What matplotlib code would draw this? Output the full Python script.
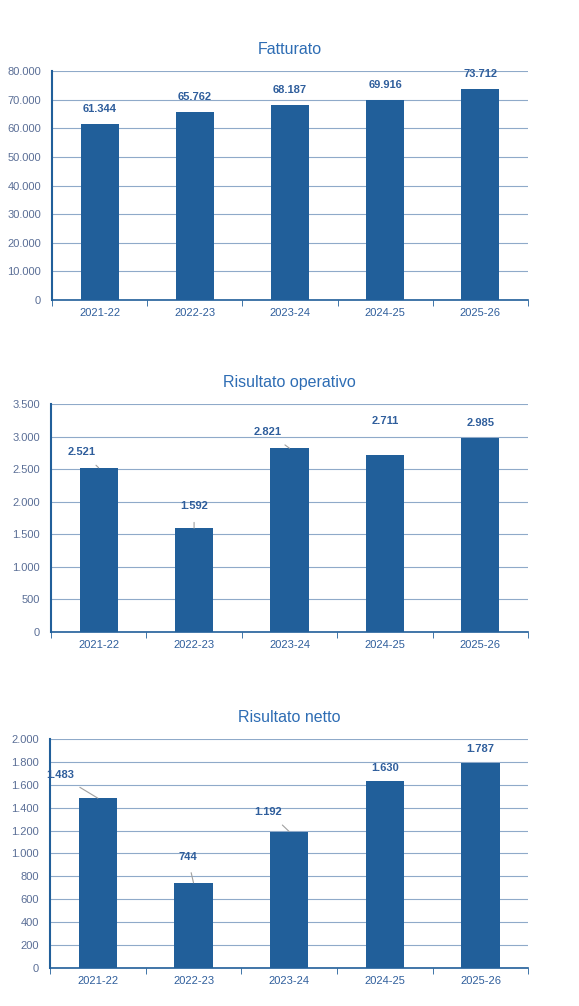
import matplotlib.pyplot as plt
from matplotlib.ticker import FuncFormatter

plt.rcParams['font.family'] = ['Liberation Sans', 'DejaVu Sans']

years = ["2021-22", "2022-23", "2023-24", "2024-25", "2025-26"]
fatturato = [61344, 65762, 68187, 69916, 73712]
risultato_operativo = [2521, 1592, 2821, 2711, 2985]
risultato_netto = [1483, 744, 1192, 1630, 1787]

BAR = "#215F9A"
GRID = "#8FAAC9"
TICK = "#5A6E96"
CAT = "#2F5E9C"
LBL = "#2F5E9C"


def fmt(v):
    return f"{int(v):,}".replace(",", ".")


panels = [
    ("Fatturato", fatturato, 80000, 10000, [0.0898, 0.7018, 0.822, 0.2276],
     [(0, 15, False), (0, 15, False), (0, 15, False), (0, 15, False), (0, 15, False)]),
    ("Risultato operativo", risultato_operativo, 3500, 500, [0.0880, 0.3718, 0.824, 0.2266],
     [(-17, 16, True), (0, 22, True), (-22, 16, True), (0, 34, False), (0, 15, False)]),
    ("Risultato netto", risultato_netto, 2000, 200, [0.0864, 0.0378, 0.826, 0.2276],
     [(-38, 23, True), (-6, 26, True), (-21, 20, True), (0, 13, False), (0, 14, False)]),
]

fig = plt.figure(figsize=(5.79, 10.06), dpi=100)
for title, vals, ymax, step, pos, offs in panels:
    ax = fig.add_axes(pos)
    x = range(len(years))
    ax.bar(x, vals, width=0.4, color=BAR, zorder=3)
    ax.set_xlim(-0.5, len(years) - 0.5)
    ax.set_ylim(0, ymax)
    ax.set_yticks(range(0, ymax + 1, step))
    ax.yaxis.set_major_formatter(FuncFormatter(lambda v, p: fmt(v)))
    ax.grid(axis='y', color=GRID, linewidth=0.8, zorder=0)
    for s in ["top", "right"]:
        ax.spines[s].set_visible(False)
    ax.spines["left"].set_color(BAR)
    ax.spines["left"].set_linewidth(1.5)
    ax.spines["bottom"].set_color(BAR)
    ax.spines["bottom"].set_linewidth(1.2)
    ax.set_xticks(list(x))
    ax.set_xticklabels(years, color=CAT, fontsize=8)
    ax.set_xticks([i + 0.5 for i in range(-1, len(years))], minor=True)
    ax.tick_params(axis='x', which='major', length=0, pad=6)
    ax.tick_params(axis='x', which='minor', length=4, color=BAR)
    ax.tick_params(axis='y', length=0, labelcolor=TICK, labelsize=8, pad=8)
    ax.set_title(title, color="#2E6DB4", fontsize=11.5, pad=12)
    for i, v in enumerate(vals):
        dx, dy, leader = offs[i]
        ax.annotate(fmt(v), (i, v), xytext=(dx, dy), textcoords='offset pixels',
                    ha='center', va='center', fontsize=8, fontweight='bold', color=LBL,
                    arrowprops=dict(arrowstyle='-', color='#A0A0A0', lw=0.8,
                                    shrinkA=6, shrinkB=0) if leader else None)

fig.savefig("out.png", dpi=100)
